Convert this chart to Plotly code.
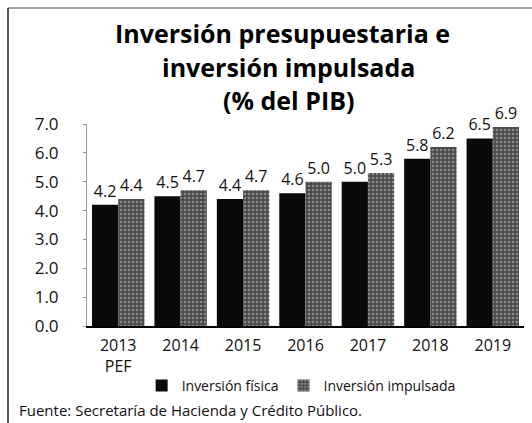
import plotly.graph_objects as go

categories = ["2013<br>PEF", "2014", "2015", "2016", "2017", "2018", "2019"]
inversion_fisica = [4.2, 4.5, 4.4, 4.6, 5.0, 5.8, 6.5]
inversion_impulsada = [4.4, 4.7, 4.7, 5.0, 5.3, 6.2, 6.9]
y_ticks = [0, 1, 2, 3, 4, 5, 6, 7]
title_lines = ["Inversión presupuestaria e", "inversión impulsada", "(% del PIB)"]

FONT = "Open Sans"
PLOT_TOP, PLOT_BOTTOM = 124, 326  # pixel rows of plot area


def py(pix):
    """Convert a pixel row to paper y."""
    return (PLOT_BOTTOM - pix) / (PLOT_BOTTOM - PLOT_TOP)


def px(pix):
    return (pix - 87) / 437


fig = go.Figure()
fig.add_trace(go.Bar(
    x=categories, y=inversion_fisica, name="Inversión física",
    marker=dict(color="#0a0a0a", line=dict(width=0)),
    text=[f"{v:.1f}" for v in inversion_fisica], textposition="outside",
    textfont=dict(size=16, color="#111", family=FONT), cliponaxis=False,
))
fig.add_trace(go.Bar(
    x=categories, y=inversion_impulsada, name="Inversión impulsada",
    marker=dict(color="#5a5a5a", line=dict(width=0),
                pattern=dict(shape=".", fgcolor="#c8c8c8", bgcolor="#4a4a4a", size=4, solidity=0.35)),
    text=[f"{v:.1f}" for v in inversion_impulsada], textposition="outside",
    textfont=dict(size=16, color="#111", family=FONT), cliponaxis=False,
))

fig.update_layout(
    width=532, height=423,
    margin=dict(l=87, r=8, t=124, b=97, autoexpand=False),
    paper_bgcolor="white", plot_bgcolor="white",
    barmode="group", bargap=0.16, bargroupgap=0,
    font=dict(family=FONT, color="#111"),
    showlegend=True,
    legend=dict(orientation="h", x=0.49, xanchor="center", y=0.088, yanchor="middle",
                yref="container", font=dict(size=14, family=FONT, color="#111"),
                itemwidth=30, traceorder="normal"),
    xaxis=dict(showline=True, linecolor="#000", linewidth=1.5, ticks="", automargin=False,
               ticklabelstandoff=4,
               tickfont=dict(size=16, family=FONT, color="#111")),
    yaxis=dict(range=[0, 7], tickvals=y_ticks, tickformat=".1f", showgrid=False,
               showline=True, linecolor="#999", linewidth=1, ticks="outside", automargin=False,
               ticklen=3, tickcolor="#999", zeroline=False, ticklabelstandoff=21,
               tickfont=dict(size=17, family=FONT, color="#111")),
)

for line, ypix, xpix in zip(title_lines, [33, 67, 100], [282, 288, 288]):
    fig.add_annotation(text=f"<b>{line}</b>", xref="paper", yref="paper",
                       x=px(xpix), y=py(ypix), xanchor="center", yanchor="middle",
                       showarrow=False, font=dict(size=25, family=FONT, color="#000"))

fig.add_annotation(text="Fuente: Secretaría de Hacienda y Crédito Público.",
                   xref="paper", yref="paper", x=px(17), y=py(410),
                   xanchor="left", yanchor="middle", showarrow=False,
                   font=dict(size=15, family=FONT, color="#111"))

# frame lines
fig.add_shape(type="line", xref="paper", yref="paper", x0=px(8), x1=px(8), y0=py(423), y1=py(8),
              line=dict(color="#222", width=1.5))
fig.add_shape(type="line", xref="paper", yref="paper", x0=px(8), x1=px(532), y0=py(8), y1=py(8),
              line=dict(color="#444", width=1.2))

fig.write_html("out.html", config={"displayModeBar": False},
               post_script="document.body.style.margin='0';")
